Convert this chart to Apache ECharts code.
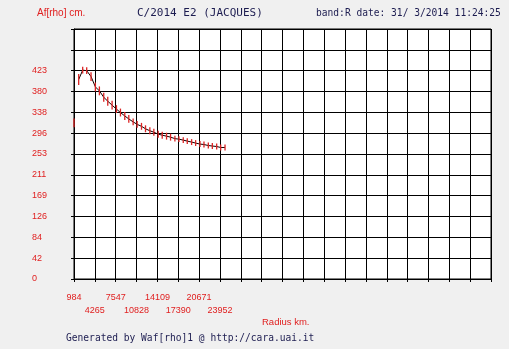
<!DOCTYPE html>
<html>
<head>
<meta charset="utf-8">
<script src="https://cdn.jsdelivr.net/npm/echarts@6/dist/echarts.min.js"></script>
<style>
html,body{margin:0;padding:0;background:#f0f0f0;}
#c{width:509px;height:349px;}
</style>
</head>
<body>
<div id="c"></div>
<script>
// Radius (km) of each measurement
const radius = [984, 1721, 2351, 2982, 3666, 4349, 4980, 5664, 6295, 6978, 7662, 8293, 8976, 9607, 10290, 10921, 11605, 12236, 12919, 13550, 14234, 14865, 15548, 16179, 16863, 17494, 18177, 18808, 19492, 20123, 20806, 21437, 22121, 22752, 23435, 24066, 24750];
// Af[rho] (cm)
const afrho = [317, 405, 424, 423, 411, 390, 382, 369, 361, 353, 345, 338, 331, 325, 319, 314, 310, 305, 301, 298, 294, 292, 290, 288, 285, 284, 282, 280, 278, 276, 274, 273, 271, 270, 269, 267, 267];
// error (cm)
const afrhoErr = [9, 11, 7, 7, 9, 9, 9, 9, 9, 9, 8, 8, 8, 8, 7, 7, 7, 7, 7, 7, 7, 7, 7, 7, 6, 6, 6, 6, 6, 6, 6, 6, 6, 6, 6, 6, 6];

const xTickLabels = ['984', '4265', '7547', '10828', '14109', '17390', '20671', '23952'];
const yTickLabels = ['0', '42', '84', '126', '169', '211', '253', '296', '338', '380', '423'];

const xMin = 984, xMax = 66604;   // 20 divisions of 3281 km
const yMin = 0, yMax = 507.6;     // 12 divisions of 42.3 cm

const lineData = radius.slice(1).map((r, i) => [r, afrho[i + 1]]);
const errData = radius.map((r, i) => [r, afrho[i], afrhoErr[i]]);

const red = '#e02020';
const navy = '#1c1c50';
const numFont = '"Liberation Sans", Arial, sans-serif';

const chart = echarts.init(document.getElementById('c'), null, {renderer: 'canvas'});
chart.setOption({
  backgroundColor: '#f0f0f0',
  animation: false,
  grid: {left: 74, right: 18, top: 29, bottom: 70, show: true, backgroundColor: '#ffffff', borderColor: '#000', borderWidth: 1},
  xAxis: [
    {type: 'value', min: xMin, max: xMax, show: false},
    {type: 'value', min: 0, max: 20, interval: 1, position: 'bottom',
      axisLine: {show: true, lineStyle: {color: '#000', width: 1}},
      axisTick: {show: true, length: 3, lineStyle: {color: '#000'}},
      splitLine: {show: true, lineStyle: {color: '#000', width: 1}},
      axisLabel: {margin: 14, color: red, fontSize: 9, fontFamily: numFont, showMinLabel: true, showMaxLabel: true,
        formatter: v => (v % 2 === 0 && xTickLabels[v] !== undefined) ? xTickLabels[v] : ''}},
    {type: 'value', min: 0, max: 20, interval: 1, position: 'bottom',
      axisLine: {show: false}, axisTick: {show: false}, splitLine: {show: false},
      axisLabel: {margin: 27, color: red, fontSize: 9, fontFamily: numFont,
        formatter: v => (v % 2 === 1 && xTickLabels[v] !== undefined) ? xTickLabels[v] : ''}}
  ],
  yAxis: [
    {type: 'value', min: yMin, max: yMax, show: false},
    {type: 'value', min: 0, max: 12, interval: 1, position: 'left',
      axisLine: {show: true, lineStyle: {color: '#000', width: 1}},
      axisTick: {show: true, length: 3, lineStyle: {color: '#000'}},
      splitLine: {show: true, lineStyle: {color: '#000', width: 1}},
      axisLabel: {margin: 42, align: 'left', color: red, fontSize: 9, fontFamily: numFont, showMinLabel: true,
        formatter: v => yTickLabels[v] !== undefined ? yTickLabels[v] : ''}}
  ],
  series: [
    {type: 'line', xAxisIndex: 0, yAxisIndex: 0, data: lineData, showSymbol: false, symbol: 'none',
      lineStyle: {color: '#100000', width: 1}, z: 3},
    {type: 'custom', xAxisIndex: 0, yAxisIndex: 0, data: errData, z: 5,
      renderItem: function (params, api) {
        const x = api.value(0), v = api.value(1), e = api.value(2);
        const p1 = api.coord([x, v - e]);
        const p2 = api.coord([x, v + e]);
        return {type: 'line', shape: {x1: p1[0], y1: p1[1], x2: p2[0], y2: p2[1]},
          style: {stroke: '#dc2424', lineWidth: 1.3}};
      }}
  ],
  graphic: [
    {type: 'text', left: 37, top: 8, style: {text: 'Af[rho] cm.', fill: red, font: '10px "Liberation Sans", Arial, sans-serif'}},
    {type: 'text', left: 137, top: 8, style: {text: 'C/2014 E2 (JACQUES)', fill: navy, font: '11px "DejaVu Sans Mono", monospace'}},
    {type: 'text', left: 316, top: 8, style: {text: 'band:R date: 31/ 3/2014 11:24:25', fill: navy, font: '9.6px "DejaVu Sans Mono", monospace'}},
    {type: 'text', left: 262, top: 317, style: {text: 'Radius km.', fill: red, font: '9.5px "Liberation Sans", Arial, sans-serif'}},
    {type: 'text', left: 66, top: 333, style: {text: 'Generated by Waf[rho]1 @ http://cara.uai.it', fill: navy, font: '9.6px "DejaVu Sans Mono", monospace'}}
  ]
});
</script>
</body>
</html>
